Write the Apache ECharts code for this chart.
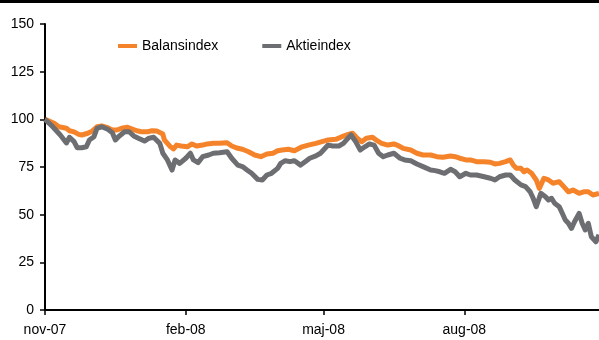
<!DOCTYPE html>
<html>
<head>
<meta charset="utf-8">
<script src="https://cdn.jsdelivr.net/npm/echarts@6/dist/echarts.min.js"></script>
<style>
  html, body { margin: 0; padding: 0; background: #fff; }
  #chart { width: 599px; height: 340px; }
</style>
</head>
<body>
<div id="chart"></div>
<script>
// Days counted from 1 Nov 2007
const monthLabels = ['nov-07', 'feb-08', 'maj-08', 'aug-08'];
const monthDays = [0, 92, 182, 274];
const yTicks = [0, 25, 50, 75, 100, 125, 150];

const balansDays = [0,6,9,14,16,19,22,24,28,31,34,37,41,44,47,50,54,57,60,63,67,70,73,77,78,82,84,86,89,93,96,99,103,106,110,114,119,122,126,129,133,137,141,145,149,152,155,159,163,168,172,177,181,185,190,194,197,201,204,207,210,214,217,220,224,228,230,234,239,243,247,252,256,260,265,268,271,275,278,282,287,291,294,297,301,304,306,308,311,313,315,318,321,323,326,329,332,336,339,342,345,349,352,355,358,362];
const balansValues = [100,97.9,96.1,95.3,94.0,93.4,92.1,91.8,92.7,93.9,96.1,96.5,95.6,94.4,94.4,95.3,95.8,94.9,94.0,93.5,93.5,94.0,93.9,92.3,89.2,85.6,84.5,86.5,86.0,85.6,87.1,86.0,86.5,87.1,87.4,87.4,87.7,86.0,84.8,84.3,83.0,81.3,80.4,81.8,82.2,83.5,83.9,84.3,83.5,85.6,86.5,87.4,88.3,89.2,89.5,90.9,91.8,92.7,90.1,88.3,90.1,90.6,88.8,87.4,86.5,87.1,86.5,84.8,83.9,82.2,81.3,81.3,80.4,80.1,80.8,80.4,79.6,78.7,78.7,77.8,77.8,77.5,76.6,76.9,77.8,78.7,76.0,74.3,74.3,72.5,73.4,71.7,68.2,63.8,69.1,68.2,66.5,67.3,64.7,62.0,62.9,61.2,62.0,62.0,60.3,61.2];

const aktieDays = [0,4,7,10,14,16,19,21,24,27,29,32,34,37,41,44,46,48,52,55,58,61,65,68,71,75,77,78,80,83,85,88,92,95,97,100,103,107,110,114,119,122,126,129,132,135,139,142,145,148,152,154,157,160,163,167,170,173,177,180,183,185,188,192,195,197,200,203,206,209,212,215,218,221,224,228,229,232,235,239,243,247,252,255,258,261,265,268,271,275,278,282,287,291,294,297,301,304,307,311,314,317,319,321,324,325,327,329,331,333,336,338,340,342,344,346,349,351,353,355,357,360,362];
const aktieValues = [100,97.0,94.4,91.8,87.6,90.6,88.3,85.1,85.1,85.6,89.2,90.9,95.3,96.1,94.8,93.0,89.2,90.9,93.5,93.5,91.3,90.1,88.6,90.1,90.6,87.4,82.2,81.3,78.7,73.4,78.7,76.9,79.6,82.2,78.7,77.3,80.4,81.3,82.2,82.5,83.0,79.6,76.0,75.2,73.4,71.7,68.5,68.2,70.8,71.7,74.3,76.9,78.3,77.8,78.3,76.0,77.8,79.6,80.8,82.2,84.8,86.5,86.0,86.0,87.4,89.2,91.8,88.3,83.9,85.6,87.1,86.5,82.2,80.4,81.3,82.2,81.8,79.6,78.7,78.3,76.6,75.2,73.4,73.1,72.5,71.7,73.8,72.5,69.9,71.7,70.8,70.8,69.9,69.1,68.2,69.9,70.8,70.8,68.2,65.6,64.7,62.0,58.6,54.2,61.2,62.0,59.4,57.7,58.6,56.0,54.2,50.7,47.2,45.5,42.8,46.3,50.7,45.5,42.0,45.5,38.4,35.8,39.5];

const pairs = (xs, ys) => xs.map((d, i) => [d, ys[i]]);
const lastDay = Math.max(balansDays[balansDays.length - 1], aktieDays[aktieDays.length - 1]);

const chart = echarts.init(document.getElementById('chart'), null, { renderer: 'canvas' });

chart.setOption({
  animation: false,
  backgroundColor: '#ffffff',
  textStyle: { fontFamily: 'Liberation Sans, Arial, sans-serif' },
  graphic: [{
    type: 'rect',
    left: 0, top: 0,
    shape: { width: 599, height: 3 },
    style: { fill: '#000000' },
    silent: true
  }],
  grid: { left: 45, right: 0, top: 24, bottom: 30, containLabel: false },
  legend: {
    left: 118, top: 39, padding: 0,
    itemWidth: 19, itemHeight: 4, itemGap: 44,
    icon: 'rect',
    textStyle: { fontSize: 14, color: '#000', fontFamily: 'Liberation Sans, Arial, sans-serif' },
    data: ['Balansindex', 'Aktieindex']
  },
  xAxis: {
    type: 'value',
    min: 0,
    max: lastDay,
    splitLine: { show: false },
    axisLine: { lineStyle: { color: '#000', width: 2 } },
    axisTick: {
      show: true, length: 5, customValues: monthDays,
      lineStyle: { color: '#000', width: 1.5 }
    },
    axisLabel: {
      fontSize: 14, color: '#000', margin: 13,
      customValues: monthDays,
      formatter: v => {
        const i = monthDays.indexOf(Math.round(v));
        return i >= 0 ? monthLabels[i] : '';
      }
    }
  },
  yAxis: {
    type: 'value',
    min: yTicks[0],
    max: yTicks[yTicks.length - 1],
    interval: 25,
    splitLine: { show: false },
    axisLine: { show: true, lineStyle: { color: '#000', width: 2 } },
    axisTick: { show: true, length: 5, lineStyle: { color: '#000', width: 1.5 } },
    axisLabel: { fontSize: 14, color: '#000', margin: 11 }
  },
  series: [
    {
      name: 'Balansindex',
      type: 'line',
      data: pairs(balansDays, balansValues),
      symbol: 'none',
      color: '#F5832A',
      lineStyle: { width: 5, color: '#F5832A', join: 'round' },
      z: 2
    },
    {
      name: 'Aktieindex',
      type: 'line',
      data: pairs(aktieDays, aktieValues),
      symbol: 'none',
      color: '#6D6E71',
      lineStyle: { width: 5, color: '#6D6E71', join: 'round' },
      z: 3
    }
  ]
});
</script>
</body>
</html>
